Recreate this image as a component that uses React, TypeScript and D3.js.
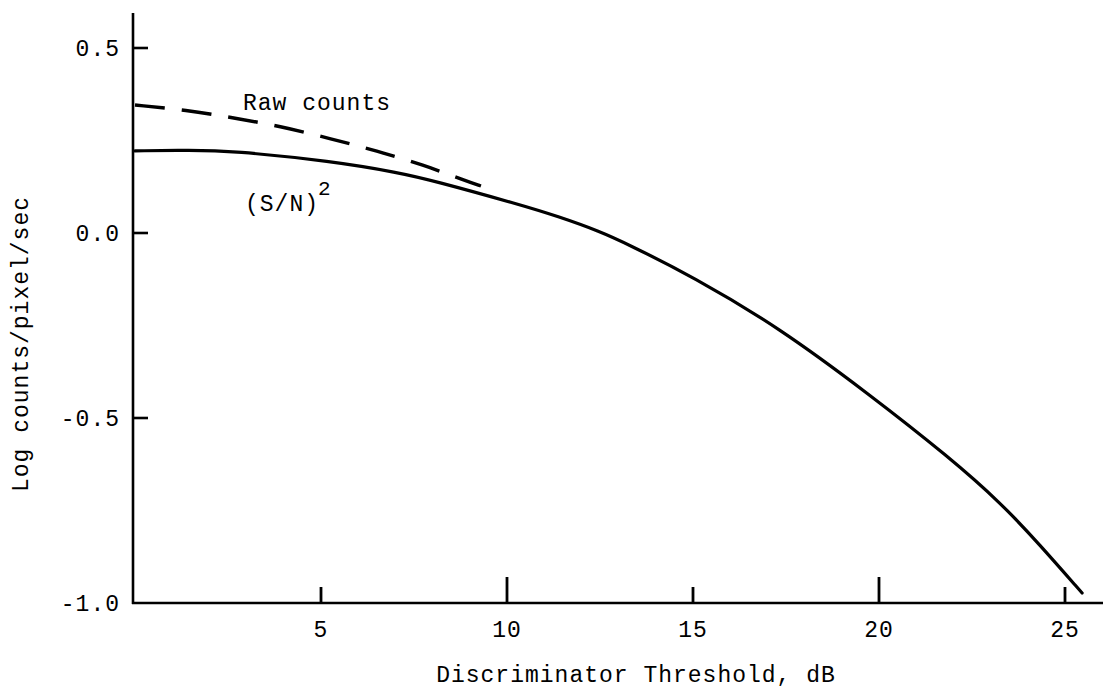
import React, { useEffect, useRef } from 'react';
import * as d3 from 'd3';

// Discriminator threshold (dB) vs log counts/pixel/sec
const snrThreshold = [0, 1.5, 2.6, 5.3, 7.1, 8, 10.3, 11.4, 12.5, 13.2, 15, 17.3, 19.7, 21.9, 23.3, 24.3, 25.46];
const snrValues = [0.222, 0.224, 0.222, 0.194, 0.163, 0.142, 0.078, 0.044, 0.004, -0.028, -0.118, -0.255, -0.433, -0.607, -0.732, -0.84, -0.973];

const rawThreshold = [0, 1.4, 2.6, 3.9, 5.25, 6.5, 7.75, 8.9, 9.3];
const rawValues = [0.346, 0.332, 0.312, 0.289, 0.255, 0.222, 0.184, 0.141, 0.127];

const xTicks = [5, 10, 15, 20, 25];
const xTickLabels = ['5', '10', '15', '20', '25'];
const yTicks = [0.5, 0.0, -0.5, -1.0];
const yTickLabels = ['0.5', '0.0', '-0.5', '-1.0'];

const FONT = '"Liberation Mono", "Courier New", monospace';

const App = () => {
    const svgRef = useRef<SVGSVGElement>(null);

    useEffect(() => {
        document.body.style.margin = '0';
        if (!svgRef.current) return;

        const width = 1103;
        const svg = d3.select(svgRef.current);
        svg.selectAll('*').remove();

        const x = d3.scaleLinear().domain([0, 25]).range([135, 1065]);
        const y = d3.scaleLinear().domain([-1, 0.5]).range([603, 48]);
        const axisX = 133;
        const axisY = y(-1);

        // axes
        svg.append('line')
            .attr('x1', axisX).attr('x2', axisX)
            .attr('y1', 13).attr('y2', axisY + 1)
            .attr('stroke', '#000').attr('stroke-width', 2.6);
        svg.append('line')
            .attr('x1', axisX - 1).attr('x2', width)
            .attr('y1', axisY).attr('y2', axisY)
            .attr('stroke', '#000').attr('stroke-width', 2.6);

        // y ticks point inward
        yTicks.filter(v => v > -1).forEach(v => {
            svg.append('line')
                .attr('x1', axisX).attr('x2', axisX + 15)
                .attr('y1', y(v)).attr('y2', y(v))
                .attr('stroke', '#000').attr('stroke-width', 2.6);
        });
        yTicks.forEach((v, i) => {
            svg.append('text')
                .attr('x', 120)
                .attr('y', y(v) + 8)
                .attr('text-anchor', 'end')
                .attr('font-family', FONT)
                .attr('font-size', 23)
                .attr('letter-spacing', 1)
                .attr('fill', '#000')
                .text(yTickLabels[i]);
        });

        // x ticks point upward, tens are longer
        xTicks.forEach((v, i) => {
            const len = v % 10 === 0 ? 26 : 16;
            svg.append('line')
                .attr('x1', x(v)).attr('x2', x(v))
                .attr('y1', axisY).attr('y2', axisY - len)
                .attr('stroke', '#000').attr('stroke-width', 2.8);
            svg.append('text')
                .attr('x', x(v))
                .attr('y', 637)
                .attr('text-anchor', 'middle')
                .attr('font-family', FONT)
                .attr('font-size', 23)
                .attr('letter-spacing', 1)
                .attr('fill', '#000')
                .text(xTickLabels[i]);
        });

        // curves (basis smoothing, like the hand-drawn original)
        const line = d3.line<[number, number]>()
            .x(d => x(d[0]))
            .y(d => y(d[1]))
            .curve(d3.curveBasis);

        const snrPts = snrThreshold.map((t, i) => [t, snrValues[i]] as [number, number]);
        const rawPts = rawThreshold.map((t, i) => [t, rawValues[i]] as [number, number]);

        svg.append('path')
            .attr('d', line(snrPts))
            .attr('fill', 'none')
            .attr('stroke', '#000')
            .attr('stroke-width', 3.2)
            .attr('stroke-linecap', 'round');

        svg.append('path')
            .attr('d', line(rawPts))
            .attr('fill', 'none')
            .attr('stroke', '#000')
            .attr('stroke-width', 3.4)
            .attr('stroke-dasharray', '30 17');

        // labels
        const label = (tx: number, ty: number, s: string, size = 23) =>
            svg.append('text')
                .attr('x', tx).attr('y', ty)
                .attr('font-family', FONT)
                .attr('font-size', size)
                .attr('letter-spacing', 1)
                .attr('fill', '#000')
                .text(s);

        label(243, 110, 'Raw counts');
        label(245, 211, '(S/N)');
        label(318, 195, '2', 21);

        svg.append('text')
            .attr('x', 636)
            .attr('y', 682)
            .attr('text-anchor', 'middle')
            .attr('font-family', FONT)
            .attr('font-size', 23)
            .attr('letter-spacing', 1)
            .attr('fill', '#000')
            .text('Discriminator Threshold, dB');

        svg.append('text')
            .attr('transform', `translate(28, 344) rotate(-90)`)
            .attr('text-anchor', 'middle')
            .attr('font-family', FONT)
            .attr('font-size', 23)
            .attr('letter-spacing', 1)
            .attr('fill', '#000')
            .text('Log counts/pixel/sec');
    }, []);

    return (
        <svg
            ref={svgRef}
            width={1103}
            height={689}
            viewBox="0 0 1103 689"
            style={{ display: 'block', background: '#fff' }}
        />
    );
};

export default App;
